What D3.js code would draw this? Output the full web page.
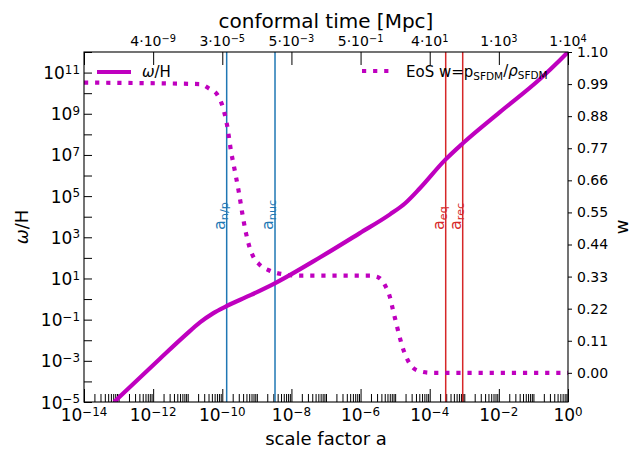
<!DOCTYPE html>
<html>
<head>
<meta charset="utf-8">
<script src="https://cdn.jsdelivr.net/npm/d3@7"></script>
<style>
body { margin: 0; background: #fff; }
text { font-family: "DejaVu Sans", sans-serif; fill: #000; }
</style>
</head>
<body>
<div id="chart"></div>
<script>
// omega/H against scale factor
let aOmega = [7.4e-14, 1.6e-12, 8.4e-12, 2.26e-11, 5.4e-11, 1.28e-10, 6.3e-10, 3.3e-9, 6.8e-8, 9.5e-7,
    7.1e-6, 1.95e-5, 5.2e-5, 2.75e-4, 9.1e-4, 1.07e-2, 0.155, 0.59, 1];
let omegaH = [1e-5, 1.3e-3, 0.0171, 0.0736, 0.202, 0.44, 1.5, 5.8, 107, 1600,
    1.3e4, 4.5e4, 2.4e5, 5.6e6, 3.7e7, 1.2e9, 4.9e10, 4.1e11, 1e12];

// equation of state w against scale factor
let aEos = [1e-14, 2.26e-11, 4.13e-11, 7.03e-11, 9.8e-11, 1.37e-10, 1.79e-10, 2.33e-10, 3.05e-10,
    3.79e-10, 4.85e-10, 5.93e-10, 7.74e-10, 1.23e-9, 2.4e-9, 6.5e-9, 1.77e-8, 1.87e-6,
    3.19e-6, 5.09e-6, 7.1e-6, 8.67e-6, 1.06e-5, 1.29e-5, 1.58e-5, 2.06e-5, 2.88e-5,
    5.24e-5, 1.16e-4, 1];
let wEos = [0.995, 0.99, 0.975, 0.955, 0.92, 0.85, 0.76, 0.69, 0.616,
    0.547, 0.479, 0.437, 0.40, 0.37, 0.35, 0.337, 0.333, 0.333,
    0.328, 0.30, 0.259, 0.215, 0.173, 0.132, 0.094, 0.056, 0.025,
    0.005, 0.0, 0.0];

// epochs
let epochSub = ["n/p", "nuc", "eq", "rec"];
let epochA = [1.34e-10, 3.35e-9, 2.9e-4, 9.0e-4];
let epochColor = ["#1f77b4", "#1f77b4", "#d62728", "#d62728"];

// ticks
let xMajorExp = [-14, -12, -10, -8, -6, -4, -2, 0];
let yLabelExp = [-5, -3, -1, 1, 3, 5, 7, 9, 11];
let wTicks = [0, 0.11, 0.22, 0.33, 0.44, 0.55, 0.66, 0.77, 0.88, 0.99, 1.10];
let topMant = ["", "4", "3", "5", "5", "4", "1", "1"];
let topExp = ["", "−9", "−5", "−3", "−1", "1", "3", "4"];

let magenta = "#bf00bf";
let margin = { top: 52, right: 65, bottom: 48, left: 84 },
    width = 633 - margin.left - margin.right,
    height = 450 - margin.top - margin.bottom;

let svg = d3.select("#chart").append("svg")
    .attr("width", 633)
    .attr("height", 450)
    .append("g")
    .attr("transform", "translate(" + margin.left + "," + margin.top + ")");

let x = d3.scaleLog().domain([1e-14, 1]).range([0, width]);
let y = d3.scaleLog().domain([1e-5, 1e12]).range([height, 0]);
let yw = d3.scaleLinear().domain([-0.1, 1.1]).range([height, 0]);

svg.append("clipPath").attr("id", "plotclip")
    .append("rect").attr("width", width).attr("height", height);

function powLabel(sel, mant, exp) {
    if (mant) sel.append("tspan").text(mant + "·");
    sel.append("tspan").text("10");
    sel.append("tspan").attr("dy", "-0.45em").style("font-size", "70%").text(exp);
}
function fmtExp(e) { return (e < 0 ? "−" : "") + Math.abs(e); }

// bottom ticks
let xMinor = [];
for (let e = -14; e < 0; e++) {
    for (let m = 1; m < 10; m++) {
        if (m == 1 && e % 2 == 0) continue;
        xMinor.push(m * Math.pow(10, e));
    }
}
let noLabel = () => "";
svg.append("g").attr("transform", "translate(0," + height + ")")
    .call(d3.axisBottom(x).tickValues(xMinor).tickSize(-8).tickFormat(noLabel));
svg.append("g").attr("transform", "translate(0," + height + ")")
    .call(d3.axisBottom(x).tickValues(xMajorExp.map(e => Math.pow(10, e))).tickSize(-13).tickFormat(noLabel));
xMajorExp.forEach(function (e) {
    let t = svg.append("text")
        .attr("x", x(Math.pow(10, e)))
        .attr("y", height + 19)
        .attr("text-anchor", "middle")
        .style("font-size", "17px");
    powLabel(t, "", fmtExp(e));
});

// top ticks (conformal time)
svg.append("g")
    .call(d3.axisTop(x).tickValues(xMajorExp.map(e => Math.pow(10, e))).tickSize(-13).tickFormat(noLabel));
xMajorExp.forEach(function (e, i) {
    if (!topMant[i]) return;
    let t = svg.append("text")
        .attr("x", x(Math.pow(10, e)))
        .attr("y", -6)
        .attr("text-anchor", "middle")
        .style("font-size", "14px");
    powLabel(t, topMant[i], topExp[i]);
});

// left ticks
let yAll = d3.range(-5, 13).map(e => Math.pow(10, e));
svg.append("g")
    .call(d3.axisLeft(y).tickValues(yAll).tickSize(-8).tickFormat(noLabel));
yLabelExp.forEach(function (e) {
    let t = svg.append("text")
        .attr("x", -4)
        .attr("y", y(Math.pow(10, e)) + 6.5)
        .attr("text-anchor", "end")
        .style("font-size", "17px");
    powLabel(t, "", fmtExp(e));
});

// right ticks
svg.append("g").attr("transform", "translate(" + width + ",0)")
    .call(d3.axisRight(yw).tickValues(wTicks).tickSize(4).tickPadding(5).tickFormat(d3.format(".2f")))
    .selectAll("text").style("font-size", "14px").attr("font-family", "DejaVu Sans");

svg.selectAll(".domain").remove();
svg.selectAll(".tick line").attr("stroke", "#000").attr("stroke-width", 1);

// epoch lines
epochA.forEach(function (a, i) {
    svg.append("line")
        .attr("x1", x(a)).attr("x2", x(a))
        .attr("y1", 0).attr("y2", height)
        .attr("stroke", epochColor[i])
        .attr("stroke-width", 1.5);
    let t = svg.append("text")
        .attr("transform", "translate(" + (x(a) - 2) + "," + 178 + ") rotate(-90)")
        .style("font-size", "16px")
        .style("fill", epochColor[i]);
    t.append("tspan").text("a");
    t.append("tspan").attr("dy", "0.3em").style("font-size", "70%").text(epochSub[i]);
});

// curves
let lineOmega = d3.line()
    .x((d, i) => x(aOmega[i]))
    .y((d, i) => y(omegaH[i]))
    .curve(d3.curveMonotoneX);
svg.append("path")
    .datum(aOmega)
    .attr("clip-path", "url(#plotclip)")
    .attr("d", lineOmega)
    .attr("fill", "none")
    .attr("stroke", magenta)
    .attr("stroke-width", 4.2);

let lineEos = d3.line()
    .x((d, i) => x(aEos[i]))
    .y((d, i) => yw(wEos[i]))
    .curve(d3.curveMonotoneX);
svg.append("path")
    .datum(aEos)
    .attr("clip-path", "url(#plotclip)")
    .attr("d", lineEos)
    .attr("fill", "none")
    .attr("stroke", magenta)
    .attr("stroke-width", 4.2)
    .attr("stroke-dasharray", "4.2,6.9");

// frame
svg.append("rect")
    .attr("width", width).attr("height", height)
    .attr("fill", "none").attr("stroke", "#000").attr("stroke-width", 1.1);

// legends
svg.append("line")
    .attr("x1", 13).attr("x2", 47).attr("y1", 20).attr("y2", 20)
    .attr("stroke", magenta).attr("stroke-width", 4.2);
let lg1 = svg.append("text").attr("x", 58).attr("y", 25).style("font-size", "15px");
lg1.append("tspan").style("font-style", "italic").text("ω");
lg1.append("tspan").text("/H");

svg.append("line")
    .attr("x1", 278).attr("x2", 309).attr("y1", 19).attr("y2", 19)
    .attr("stroke", magenta).attr("stroke-width", 4.2)
    .attr("stroke-dasharray", "4.2,6.9");
let lg2 = svg.append("text").attr("x", 322).attr("y", 25).style("font-size", "15px");
lg2.append("tspan").text("EoS w=p");
lg2.append("tspan").attr("dy", "0.3em").style("font-size", "70%").text("SFDM");
lg2.append("tspan").attr("dy", "-0.3em").text("/");
lg2.append("tspan").style("font-style", "italic").text("ρ");
lg2.append("tspan").attr("dy", "0.3em").style("font-size", "70%").text("SFDM");

// axis titles
svg.append("text")
    .attr("x", width / 2).attr("y", height + 43)
    .attr("text-anchor", "middle").style("font-size", "18px")
    .text("scale factor a");
svg.append("text")
    .attr("x", width / 2).attr("y", -24)
    .attr("text-anchor", "middle").style("font-size", "20px")
    .text("conformal time [Mpc]");
let yl = svg.append("text")
    .attr("transform", "translate(" + (-56) + "," + (height / 2) + ") rotate(-90)")
    .attr("text-anchor", "middle").style("font-size", "18px");
yl.append("tspan").style("font-style", "italic").text("ω");
yl.append("tspan").text("/H");
svg.append("text")
    .attr("transform", "translate(" + (width + 60) + "," + (height / 2) + ") rotate(-90)")
    .attr("text-anchor", "middle").style("font-size", "18px")
    .text("w");
</script>
</body>
</html>
